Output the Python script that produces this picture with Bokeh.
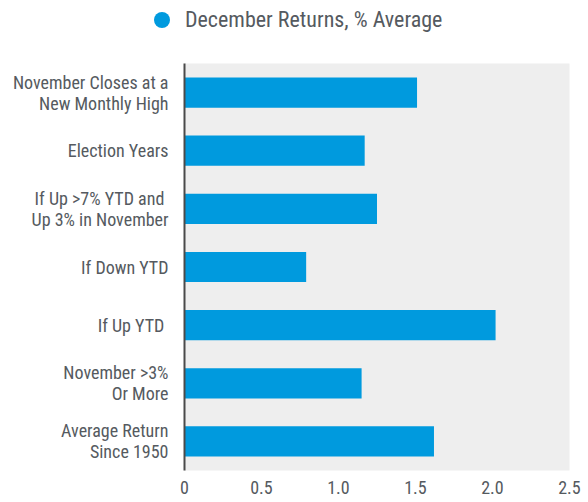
from bokeh.plotting import figure
from bokeh.layouts import column
from bokeh.models import FactorRange, Range1d, FixedTicker, ColumnDataSource, Div
from bokeh.embed import file_html
from bokeh.resources import INLINE

categories = [
    "November Closes at a\nNew Monthly High",
    "Election Years",
    "If Up  >7% YTD and\nUp 3% in November",
    "If Down YTD",
    "If Up YTD ",
    "November >3%\nOr More",
    "Average Return\nSince 1950",
]
values = [1.51, 1.17, 1.25, 0.79, 2.02, 1.15, 1.62]
tick_values = [0, 0.5, 1.0, 1.5, 2.0, 2.5]
tick_labels = ["0", "0.5", "1.0", "1.5", "2.0", "2.5"]
series_name = "December Returns, % Average"

FONT = "Roboto Condensed"
TEXT = "#555a60"
BLUE = "#009ADE"
W = 588

# ---- legend strip (HTML) ----
legend_html = (
    f'<div style="position:relative;width:{W}px;height:40px;font-family:\'{FONT}\';'
    f'font-size:22px;line-height:22px;color:{TEXT};white-space:nowrap;">'
    f'<span style="position:absolute;left:154px;top:12px;width:16px;height:16px;'
    f'border-radius:50%;background:{BLUE};"></span>'
    f'<span style="position:absolute;left:185px;top:9px;">{series_name}</span>'
    f'</div>'
)
lg = Div(text=legend_html, width=W, height=40, margin=0)

# ---- main chart ----
p = figure(width=W, height=461, output_backend="svg", toolbar_location=None,
           y_range=FactorRange(factors=categories[::-1], range_padding=0),
           x_range=Range1d(0, 2.5),
           min_border_left=184, min_border_right=19, min_border_top=23, min_border_bottom=31)

src = ColumnDataSource(dict(cat=categories, val=values))
p.hbar(y="cat", right="val", height=0.52, left=0, source=src, color=BLUE, line_color=None)

p.background_fill_color = "#EEEEEE"
p.border_fill_color = "white"
p.outline_line_color = None
p.xgrid.grid_line_color = None
p.ygrid.grid_line_color = None

p.xaxis.ticker = FixedTicker(ticks=tick_values)
p.xaxis.major_label_overrides = {v: l for v, l in zip(tick_values, tick_labels)}
p.xaxis.axis_line_color = None
p.xaxis.major_tick_line_color = None
p.xaxis.minor_tick_line_color = None
p.xaxis.major_tick_out = 0
p.xaxis.major_tick_in = 0
p.xaxis.major_label_standoff = 10
p.xaxis.major_label_text_font = FONT
p.xaxis.major_label_text_font_size = "18px"
p.xaxis.major_label_text_color = TEXT

p.yaxis.axis_line_color = "#4a4a4a"
p.yaxis.axis_line_width = 2
p.yaxis.major_tick_line_color = None
p.yaxis.minor_tick_line_color = None
p.yaxis.major_tick_out = 0
p.yaxis.major_tick_in = 0
p.yaxis.major_label_standoff = 16
p.yaxis.major_label_text_font = FONT
p.yaxis.major_label_text_font_size = "18px"
p.yaxis.major_label_text_line_height = 1.0
p.yaxis.major_label_text_color = TEXT

layout = column(lg, p, spacing=0)
open("out.html", "w").write(file_html(layout, INLINE))
